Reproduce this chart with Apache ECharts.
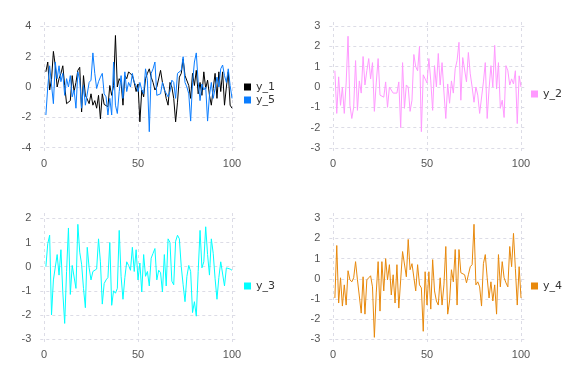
<!DOCTYPE html>
<html><head><meta charset="utf-8">
<script src="https://cdn.jsdelivr.net/npm/echarts@6/dist/echarts.min.js"></script>
<style>html,body{margin:0;padding:0;background:#fff}#c{width:576px;height:384px}</style>
</head><body><div id="c"></div>
<script>
const y1 = [1.0,1.65,-0.2,0.5,2.35,1.4,0.0,0.55,0.9,1.4,0.1,-1.1,-1.2,-0.9,0.75,-0.3,0.3,1.1,1.3,-1.65,0.75,-0.55,-0.8,-1.1,-0.45,-1.2,-0.9,-1.4,-0.55,-2.1,-0.45,-1.15,-1.25,
  -1.3,0.1,-0.55,0.1,3.4,0.0,0.55,0.3,-1.2,0.75,0.55,1.0,0.9,0.75,0.3,-0.3,0.2,-2.3,-0.2,-0.65,0.55,0.9,1.2,0.65,0.3,-0.2,0.0,0.1,1.1,0.3,-0.1,-0.75,-1.2,
  0.3,0.0,-0.75,-2.3,-1.0,0.65,0.9,1.85,0.75,0.65,0.1,-0.75,0.9,0.1,1.1,-0.45,0.3,-0.55,1.0,-0.1,0.45,-0.55,-1.2,-0.1,0.9,-0.75,1.0,-0.3,1.0,-1.2,0.0,1.0,-1.2,-1.4];
const y5 = [-1.85,0.0,1.4,1.3,-1.1,1.65,0.55,1.4,0.35,0.9,-0.55,0.55,0.0,0.75,-0.65,-0.2,-1.4,1.0,0.45,-1.4,0.1,-1.2,-1.3,0.3,0.45,2.25,0.9,-0.1,0.35,0.65,0.9,-0.45,-0.65,
  -1.85,-0.75,-1.85,1.65,-1.2,-1.75,-0.3,0.75,-0.75,1.0,-0.3,0.3,0.0,0.9,0.3,0.1,-0.3,0.3,-0.2,-0.45,1.2,0.45,-2.95,0.9,1.2,1.65,-0.55,-0.55,-0.45,0.3,-0.2,-0.3,-0.65,
  -0.3,0.45,0.3,-0.75,0.9,0.9,1.1,2.0,0.3,0.0,-0.45,-2.25,0.3,1.65,2.25,0.3,-0.9,0.2,-0.2,0.0,-2.25,-0.55,0.3,-0.75,-0.1,0.65,0.0,1.2,1.45,0.75,0.3,1.2,0.1,-0.75];
const y2 = [0.8,-1.3,0.5,-0.9,0.0,-1.3,0.2,2.5,-0.9,-1.55,-1.0,1.3,-1.15,0.3,-0.3,1.5,0.1,0.8,1.4,0.4,1.2,-1.2,0.2,1.4,-0.4,-0.4,-0.5,0.25,-1.0,0.0,0.0,-0.3,-0.35,-0.3,0.25,-2.0,1.2,-1.05,0.1,0.0,-1.2,-0.65,1.6,1.0,0.8,2.0,-2.2,0.6,
  0.65,0.2,1.4,0.3,-1.15,1.05,0.0,1.65,0.1,1.2,-0.25,-1.55,0.15,-0.8,0.3,-0.3,0.9,1.3,2.2,-0.65,1.45,1.5,0.25,1.7,0.65,0.0,-0.75,0.0,-0.4,-1.3,-1.35,0.25,1.2,-1.55,-0.1,1.05,0.0,2.05,-0.1,1.2,-1.05,-0.65,-1.5,1.05,0.8,0.1,0.4,0.15,0.8,-1.8,0.55,0.0];
const y3 = [0.0,0.95,1.3,-2.0,-0.55,-0.5,0.5,-0.35,0.7,-1.05,-2.35,-0.2,1.6,-1.15,0.05,0.0,-0.9,1.75,0.6,0.1,-0.9,-1.7,0.8,-0.05,-0.55,-0.2,-0.15,-0.1,1.15,0.2,-1.55,-0.7,-0.55,-0.45,1.0,-1.6,-1.0,-1.1,-0.9,1.5,-0.4,-1.35,-0.45,0.2,0.05,-0.15,0.8,
  -0.2,0.7,-0.55,0.15,-1.05,0.5,-0.4,-0.2,-0.8,0.35,0.55,0.75,-0.55,-0.15,-0.25,-1.05,0.5,-0.8,1.15,1.0,-0.6,-0.75,1.05,1.3,1.15,0.0,-0.75,-1.45,-0.4,0.05,-0.2,-1.9,-1.45,-2.05,-0.2,1.5,-0.05,0.2,1.65,0.5,-0.35,1.15,0.55,-0.5,-1.35,-0.45,0.2,0.25,-0.8,-0.05,0.0,-0.1,-0.15];
const y4 = [-0.95,1.65,-1.2,0.05,-1.35,-0.3,-1.3,0.4,-0.05,-0.15,0.05,0.85,-0.05,-0.85,-1.7,0.1,-1.75,-0.05,0.05,0.15,-0.4,-2.9,-0.7,0.85,-1.6,0.85,-0.6,1.0,-0.05,0.7,-0.8,0.2,-1.2,0.7,-1.45,-1.45,1.35,1.35,0.1,1.95,0.45,0.75,0.8,-0.6,0.7,-0.3,-0.45,-2.6,
  0.35,-1.3,0.35,-1.5,0.95,-0.6,-1.1,-1.3,0.05,-1.3,-0.3,1.6,-1.75,-1.1,0.45,-0.15,1.45,-1.3,1.45,0.3,0.35,0.2,-0.2,0.2,0.6,0.7,2.7,-0.3,-0.15,-0.4,-1.35,0.75,1.2,0.05,-0.95,-0.15,-1.1,-0.3,-1.75,1.2,-0.4,0.85,0.05,-0.2,-0.4,1.6,0.6,2.25,0.5,-1.3,0.6,-0.95];

const xTicks = [0, 50, 100];
const yTicksTL = [-4, -2, 0, 2, 4];
const yTicks3 = [-3, -2, -1, 0, 1, 2, 3];
const yTicksBL = [-3, -2, -1, 0, 1, 2];
const names = ['y_1', 'y_5', 'y_2', 'y_3', 'y_4'];
const colors = ['#000000', '#0a7dff', '#ff99ff', '#00ffff', '#e8890c'];

function pairs(arr) { return arr.map((v, i) => [i + 1, v]); }

const font = 'Liberation Sans, Arial, sans-serif';
const gridLine = { show: true, lineStyle: { color: '#dcdce6', type: [3, 3], width: 1 } };
function xAxis(gi) {
  return { type: 'value', gridIndex: gi, min: -1.97, max: 102.97,
    axisLine: { show: false }, axisTick: { show: false, customValues: xTicks },
    axisLabel: { customValues: xTicks, color: '#555', fontSize: 11, fontFamily: font, margin: 6 },
    splitLine: gridLine };
}
function yAxis(gi, mn, mx, ticks) {
  return { type: 'value', gridIndex: gi, min: mn, max: mx,
    axisLine: { show: false }, axisTick: { show: false, customValues: ticks },
    axisLabel: { customValues: ticks, color: '#555', fontSize: 11, fontFamily: font, margin: 9 },
    splitLine: gridLine };
}
const W = 197.3, H = 130;
const grids = [
  { left: 40.3, top: 22, width: W, height: H },
  { left: 329.3, top: 22, width: W, height: H },
  { left: 40.3, top: 213, width: W, height: H },
  { left: 329.3, top: 213, width: W, height: H }
];
function ser(name, data, gi, color) {
  return { name, type: 'line', xAxisIndex: gi, yAxisIndex: gi, data: pairs(data),
    showSymbol: false, symbol: 'none', animation: false,
    lineStyle: { color, width: 1 }, itemStyle: { color } };
}
function leg(data, left, top) {
  return { data, left, top, orient: 'vertical', padding: 0, itemGap: 0,
    itemWidth: 7, itemHeight: 7, icon: 'rect',
    textStyle: { fontSize: 11, fontFamily: 'DejaVu Sans, sans-serif', color: '#333', lineHeight: 13 } };
}
const chart = echarts.init(document.getElementById('c'), null, { renderer: 'canvas' });
chart.setOption({
  backgroundColor: '#ffffff',
  animation: false,
  grid: grids,
  xAxis: [xAxis(0), xAxis(1), xAxis(2), xAxis(3)],
  yAxis: [yAxis(0, -4.29, 4.29, yTicksTL), yAxis(1, -3.2, 3.2, yTicks3), yAxis(2, -3.16, 2.22, yTicksBL), yAxis(3, -3.18, 3.26, yTicks3)],
  legend: [leg(['y_1', 'y_5'], 244, 80.5), leg(['y_2'], 531, 87.5), leg(['y_3'], 244, 279.5), leg(['y_4'], 531, 279.5)],
  series: [
    ser('y_1', y1, 0, colors[0]),
    ser('y_5', y5, 0, colors[1]),
    ser('y_2', y2, 1, colors[2]),
    ser('y_3', y3, 2, colors[3]),
    ser('y_4', y4, 3, colors[4])
  ]
});
</script></body></html>
